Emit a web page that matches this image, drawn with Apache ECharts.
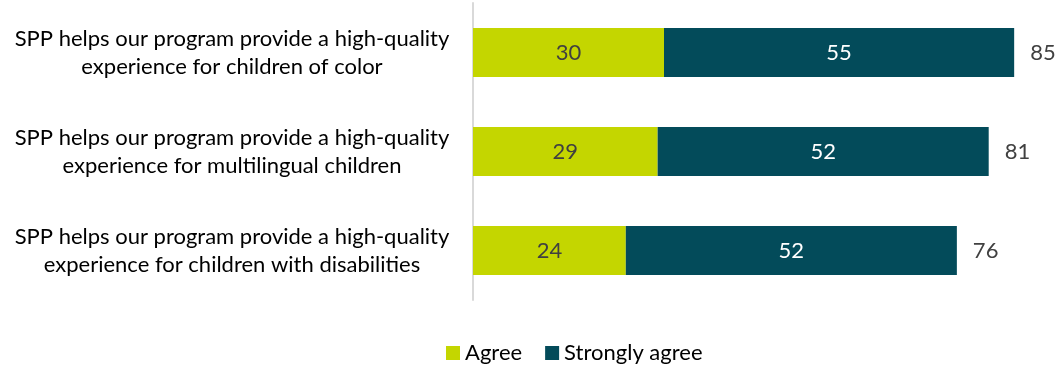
<!DOCTYPE html>
<html>
<head>
<meta charset="utf-8">
<script src="https://cdn.jsdelivr.net/npm/echarts@6/dist/echarts.min.js"></script>
<style>
  html, body { margin: 0; padding: 0; background: #fff; }
  #chart { width: 1057px; height: 368px; }
</style>
</head>
<body>
<div id="chart"></div>
<script>
// Survey statements (top to bottom) and response shares in percent
const categories = [
  'SPP helps our program provide a high-quality\nexperience for children of color',
  'SPP helps our program provide a high-quality\nexperience for multilingual children',
  'SPP helps our program provide a high-quality\nexperience for children with disabilities'
];
const agree = [30, 29, 24];
const stronglyAgree = [55, 52, 52];
const seriesNames = ['Agree', 'Strongly agree'];

const totals = agree.map((v, i) => v + stronglyAgree[i]);

const FONT = 'Lato, "Open Sans", sans-serif';
const LIME = '#C4D600';
const TEAL = '#034B5A';
const FS = 22;

const chart = echarts.init(document.getElementById('chart'), null, { renderer: 'canvas' });
chart.setOption({
  animation: false,
  textStyle: { fontFamily: FONT },
  grid: { left: 473, right: 11, top: 3, height: 297, containLabel: false },
  xAxis: {
    type: 'value', min: 0, max: 90,
    show: false
  },
  yAxis: {
    type: 'category',
    data: categories,
    inverse: true,
    axisLine: { show: true, lineStyle: { color: '#D9D9D9', width: 2 } },
    axisTick: { show: false },
    axisLabel: {
      align: 'center',
      margin: 241,
      fontSize: FS,
      lineHeight: 28,
      color: '#000000',
      fontFamily: FONT
    }
  },
  legend: {
    top: 337,
    left: 441,
    data: seriesNames,
    icon: 'rect',
    itemWidth: 14,
    itemHeight: 14,
    itemGap: 23,
    itemStyle: { borderWidth: 0 },
    textStyle: { fontSize: FS, color: '#000', fontFamily: FONT }
  },
  series: [
    {
      name: seriesNames[0], type: 'bar', stack: 'total',
      data: agree, barWidth: 49,
      itemStyle: { color: LIME },
      label: { show: true, position: 'inside', color: '#404040', fontSize: FS, fontFamily: FONT }
    },
    {
      name: seriesNames[1], type: 'bar', stack: 'total',
      data: stronglyAgree, barWidth: 49,
      itemStyle: { color: TEAL },
      label: { show: true, position: 'inside', color: '#FFFFFF', fontSize: FS, fontFamily: FONT }
    },
    {
      name: 'Total', type: 'bar',
      data: totals, barWidth: 49, barGap: '-100%', z: 1,
      itemStyle: { color: 'rgba(0,0,0,0)' },
      label: { show: true, position: 'right', distance: 16, color: '#404040', fontSize: FS, fontFamily: FONT },
      silent: true
    }
  ]
});
</script>
</body>
</html>
